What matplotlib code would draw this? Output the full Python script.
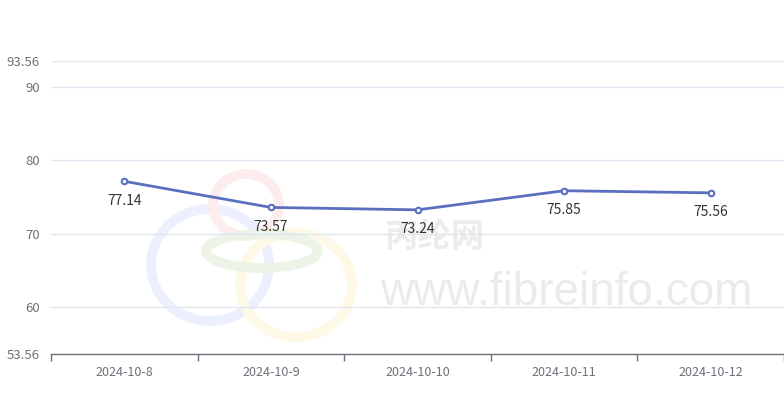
import numpy as np
import matplotlib.pyplot as plt
from matplotlib.patches import Ellipse

plt.rcParams['font.family'] = ['Noto Sans CJK SC', 'DejaVu Sans']

dates = ["2024-10-8", "2024-10-9", "2024-10-10", "2024-10-11", "2024-10-12"]
prices = [77.14, 73.57, 73.24, 75.85, 75.56]
y_ticks = [53.56, 60, 70, 80, 90, 93.56]

LINE = "#5b6fbf"
AXIS = "#6e7079"
GRID = "#e0e6f1"

fig = plt.figure(figsize=(7.84, 3.97), dpi=100)
W, H = 784, 397

# faint watermark (logo rings + site name), in figure pixel space
wm = fig.add_axes([0, 0, 1, 1], zorder=0)
wm.set_xlim(0, W)
wm.set_ylim(H, 0)
wm.axis("off")
for (cx, cy, w, h, c) in [(210, 265, 118, 112, "#ecf0fe"),
                          (246, 205, 66, 62, "#fcecec"),
                          (296, 285, 112, 104, "#fdf9e6"),
                          (262, 251, 112, 34, "#ebf4e6")]:
    wm.add_patch(Ellipse((cx, cy), w, h, fill=False, lw=7, ec=c))
wm.text(435, 238, "丙纶网", fontsize=24, color="#ececec", ha="center",
        va="center", fontweight="bold")
wm.text(566, 293, "www.fibreinfo.com", fontsize=33, color="#ebebeb",
        ha="center", va="center", family="Liberation Sans")

ax = fig.add_axes([51 / W, 1 - 354 / H, 1 - 51 / W, (354 - 61) / H], zorder=1)
ax.patch.set_alpha(0)

x = np.arange(len(dates))
ax.plot(x, prices, color=LINE, lw=2, marker="o", ms=4, mfc="white",
        mec=LINE, mew=1.5, zorder=3)
for xi, v in zip(x, prices):
    ax.annotate(f"{v:.2f}", (xi, v), xytext=(0, -14), textcoords="offset points",
                ha="center", va="center", fontsize=10, color="#333333")

ax.set_xlim(-0.5, len(dates) - 0.5)
ax.set_ylim(53.56, 93.56)
ax.set_yticks(y_ticks)
ax.set_yticklabels([f"{t:g}" for t in y_ticks])
ax.set_xticks(x)
ax.set_xticklabels(dates)
ax.set_xticks(np.arange(len(dates) + 1) - 0.5, minor=True)

ax.tick_params(axis="y", length=0, pad=8, labelsize=9.5, labelcolor=AXIS)
ax.tick_params(axis="x", which="major", length=0, pad=9, labelsize=9,
               labelcolor=AXIS)
ax.tick_params(axis="x", which="minor", length=5, color=AXIS, width=1)

for t in y_ticks[1:]:
    ax.axhline(t, color=GRID, lw=1, zorder=1)

for s in ["top", "right", "left"]:
    ax.spines[s].set_visible(False)
ax.spines["bottom"].set_color(AXIS)
ax.spines["bottom"].set_linewidth(1)

fig.savefig("out.png", dpi=100)
